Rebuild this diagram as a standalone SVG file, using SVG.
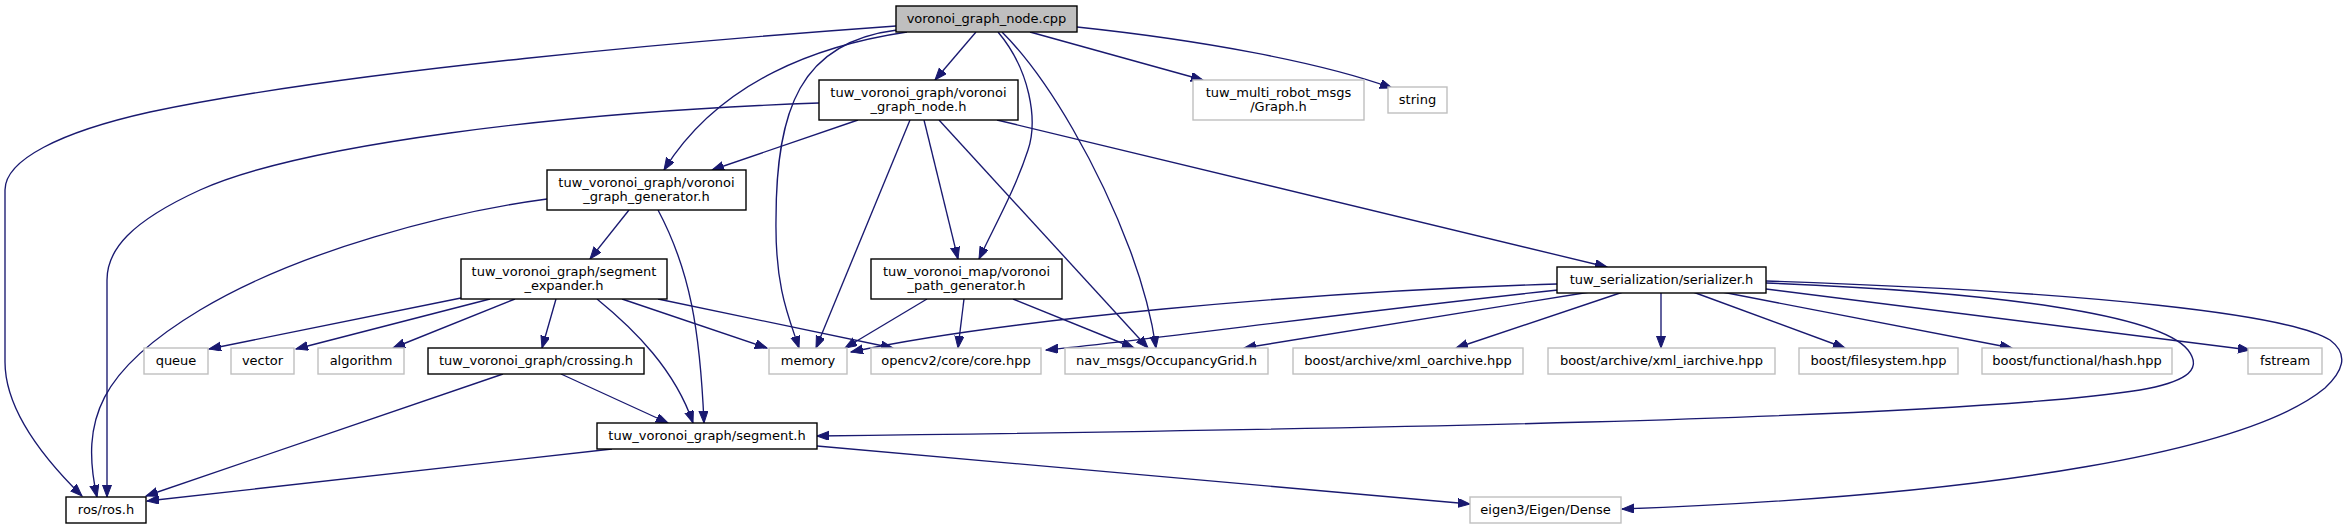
<svg xmlns="http://www.w3.org/2000/svg" width="2346" height="529" viewBox="0 0 2346 529">
<style>
.n rect{fill:#fff;stroke:#000;stroke-width:1.4}
.g rect{fill:#fff;stroke:#bfbfbf;stroke-width:1.4}
.m rect{fill:#bfbfbf;stroke:#000;stroke-width:1.4}
text{font-family:"DejaVu Sans","Liberation Sans",sans-serif;font-size:13px;text-anchor:middle;fill:#000}
#edges path{fill:none;stroke:#191970;stroke-width:1.35;marker-end:url(#ah)}
</style>
<defs>
<marker id="ah" markerUnits="userSpaceOnUse" markerWidth="13" markerHeight="10" refX="12" refY="4.5" orient="auto">
<path d="M0,0 L12,4.5 L0,9 z" fill="#191970" stroke="#191970" stroke-width="1"/>
</marker>
</defs>
<rect width="2346" height="529" fill="#fff"/>
<g id="edges">
<path d="M896,26 C700,40 350,70 150,112 C60,132 5,160 5,190 L5,362 C5,400 30,445 82,496"/>
<path d="M907,32 C820,45 720,80 664,170"/>
<path d="M976,32 L935,80"/>
<path d="M897,30 C800,42 776,110 776,220 C775,290 790,320 799,348"/>
<path d="M998,32 C1030,70 1038,120 1028,150 C1015,190 995,225 979,259"/>
<path d="M1002,32 C1050,80 1100,170 1130,250 C1145,290 1152,320 1156,348"/>
<path d="M1030,32 L1203,80"/>
<path d="M1077,27 C1200,40 1320,62 1392,88"/>
<path d="M858,120 L712,170"/>
<path d="M819,103 C560,112 300,145 200,190 C130,222 107,250 107,280 L107,497"/>
<path d="M910,120 L816,348"/>
<path d="M924,120 L958,259"/>
<path d="M939,120 L1148,348"/>
<path d="M997,120 L1607,267"/>
<path d="M547,199 C450,212 300,250 200,310 C100,370 80,420 97,497"/>
<path d="M629,210 L590,259"/>
<path d="M658,210 C690,270 700,330 704,423"/>
<path d="M461,298 L209,349"/>
<path d="M490,299 L296,349"/>
<path d="M515,299 L393,348"/>
<path d="M556,299 L542,348"/>
<path d="M597,299 C635,330 675,370 693,423"/>
<path d="M622,299 L767,348"/>
<path d="M658,299 L893,348"/>
<path d="M503,374 L146,496"/>
<path d="M561,374 L668,423"/>
<path d="M612,449 L147,501"/>
<path d="M817,446 L1470,504"/>
<path d="M927,299 L845,348"/>
<path d="M964,299 L958,348"/>
<path d="M1013,299 L1134,348"/>
<path d="M1557,284 C1300,292 1000,320 851,352"/>
<path d="M1558,290 C1350,312 1150,340 1046,350"/>
<path d="M1590,292 L1244,348"/>
<path d="M1623,292 L1456,348"/>
<path d="M1661,292 L1661,348"/>
<path d="M1693,292 L1845,348"/>
<path d="M1722,292 L2012,348"/>
<path d="M1766,289 L2250,350"/>
<path d="M1766,283 C2000,292 2160,315 2188,350 C2205,372 2180,383 2140,390 C1950,420 1300,430 817,436"/>
<path d="M1766,281 C2100,292 2290,315 2330,340 C2350,355 2342,372 2325,388 C2250,450 2000,495 1622,509"/>
</g>
<g id="main" class="m"><rect x="896" y="6" width="181" height="26"/><text x="986.5" y="23">voronoi_graph_node.cpp</text></g>
<g id="vgn_h" class="n"><rect x="819" y="80" width="199" height="40"/><text x="918.5" y="97">tuw_voronoi_graph/voronoi</text><text x="918.5" y="111">_graph_node.h</text></g>
<g id="graph_h" class="g"><rect x="1193" y="80" width="171" height="40"/><text x="1278.5" y="97">tuw_multi_robot_msgs</text><text x="1278.5" y="111">/Graph.h</text></g>
<g id="string" class="g"><rect x="1388" y="87" width="59" height="26"/><text x="1417.5" y="104">string</text></g>
<g id="generator" class="n"><rect x="547" y="170" width="199" height="40"/><text x="646.5" y="187">tuw_voronoi_graph/voronoi</text><text x="646.5" y="201">_graph_generator.h</text></g>
<g id="expander" class="n"><rect x="461" y="259" width="206" height="40"/><text x="564" y="276">tuw_voronoi_graph/segment</text><text x="564" y="290">_expander.h</text></g>
<g id="path_gen" class="n"><rect x="871" y="259" width="191" height="40"/><text x="966.5" y="276">tuw_voronoi_map/voronoi</text><text x="966.5" y="290">_path_generator.h</text></g>
<g id="serializer" class="n"><rect x="1557" y="267" width="209" height="26"/><text x="1661.5" y="284">tuw_serialization/serializer.h</text></g>
<g id="queue" class="g"><rect x="144" y="348" width="64" height="26"/><text x="176" y="365">queue</text></g>
<g id="vector" class="g"><rect x="231" y="348" width="63" height="26"/><text x="262.5" y="365">vector</text></g>
<g id="algorithm" class="g"><rect x="318" y="348" width="86" height="26"/><text x="361" y="365">algorithm</text></g>
<g id="crossing" class="n"><rect x="428" y="348" width="216" height="26"/><text x="536" y="365">tuw_voronoi_graph/crossing.h</text></g>
<g id="memory" class="g"><rect x="769" y="348" width="78" height="26"/><text x="808" y="365">memory</text></g>
<g id="opencv" class="g"><rect x="871" y="348" width="170" height="26"/><text x="956" y="365">opencv2/core/core.hpp</text></g>
<g id="nav_msgs" class="g"><rect x="1065" y="348" width="203" height="26"/><text x="1166.5" y="365">nav_msgs/OccupancyGrid.h</text></g>
<g id="xml_oarchive" class="g"><rect x="1293" y="348" width="230" height="26"/><text x="1408" y="365">boost/archive/xml_oarchive.hpp</text></g>
<g id="xml_iarchive" class="g"><rect x="1548" y="348" width="227" height="26"/><text x="1661.5" y="365">boost/archive/xml_iarchive.hpp</text></g>
<g id="filesystem" class="g"><rect x="1799" y="348" width="159" height="26"/><text x="1878.5" y="365">boost/filesystem.hpp</text></g>
<g id="hash" class="g"><rect x="1982" y="348" width="190" height="26"/><text x="2077" y="365">boost/functional/hash.hpp</text></g>
<g id="fstream" class="g"><rect x="2248" y="348" width="74" height="26"/><text x="2285" y="365">fstream</text></g>
<g id="segment" class="n"><rect x="597" y="423" width="220" height="26"/><text x="707" y="440">tuw_voronoi_graph/segment.h</text></g>
<g id="ros" class="n"><rect x="66" y="497" width="80" height="26"/><text x="106" y="514">ros/ros.h</text></g>
<g id="eigen" class="g"><rect x="1470" y="497" width="151" height="26"/><text x="1545.5" y="514">eigen3/Eigen/Dense</text></g>
</svg>
